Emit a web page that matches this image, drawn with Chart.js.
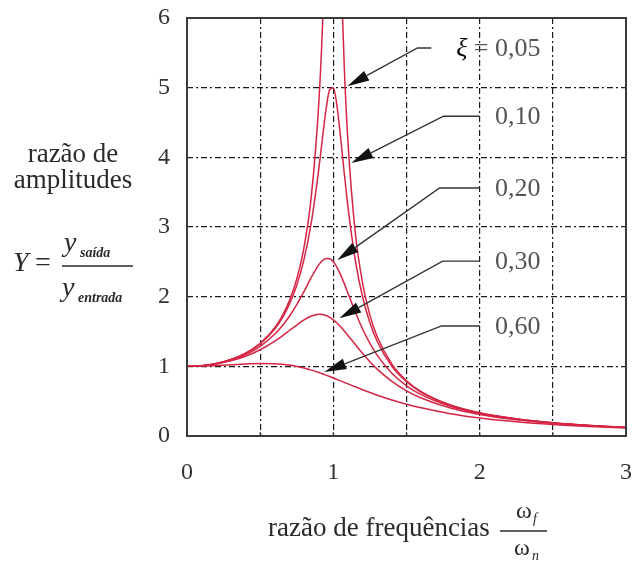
<!DOCTYPE html>
<html><head><meta charset="utf-8">
<script src="https://cdn.jsdelivr.net/npm/chart.js@4/dist/chart.umd.min.js"></script>
<style>html,body{margin:0;padding:0;background:#fff;}canvas{display:block;}</style>
</head><body>
<canvas id="c" width="632" height="569"></canvas>
<script>
// frequency ratio (x) sample points
const freqRatio = [0,0.1,0.2,0.3,0.4,0.5,0.6,0.65,0.7,0.75,0.8,0.85,0.9,0.925,0.95,0.975,1.0,1.025,1.05,1.075,1.1,1.15,1.2,1.25,1.3,1.4,1.5,1.6,1.8,2.0,2.25,2.5,2.75,3.0];
// amplitude ratio for each damping ratio
const ampXi005 = [1,1.010,1.041,1.098,1.189,1.330,1.556,1.721,1.943,2.253,2.712,3.446,4.756,5.832,7.346,9.150,10.0,8.747,6.815,5.287,4.218,2.921,2.193,1.735,1.424,1.031,0.794,0.638,0.445,0.333,0.246,0.190,0.152,0.125];
const ampXi010 = [1,1.010,1.041,1.097,1.185,1.322,1.536,1.689,1.891,2.162,2.538,3.073,3.821,4.261,4.683,4.971,5.0,4.736,4.279,3.768,3.288,2.525,1.995,1.625,1.356,1.0,0.778,0.628,0.441,0.330,0.245,0.190,0.152,0.125];
const ampXi020 = [1,1.009,1.038,1.090,1.170,1.288,1.463,1.579,1.719,1.885,2.076,2.279,2.457,2.518,2.549,2.544,2.5,2.421,2.313,2.187,2.051,1.780,1.536,1.329,1.157,0.900,0.721,0.593,0.425,0.322,0.240,0.187,0.150,0.124];
const ampXi030 = [1,1.008,1.034,1.078,1.145,1.238,1.362,1.435,1.514,1.593,1.667,1.722,1.747,1.744,1.729,1.703,1.667,1.621,1.567,1.507,1.444,1.313,1.185,1.067,0.960,0.784,0.649,0.546,0.402,0.310,0.234,0.183,0.148,0.122];
const ampXi060 = [1,1.003,1.011,1.022,1.034,1.041,1.038,1.030,1.018,0.999,0.975,0.946,0.912,0.893,0.874,0.854,0.833,0.812,0.791,0.770,0.748,0.706,0.664,0.624,0.586,0.517,0.456,0.404,0.321,0.260,0.205,0.165,0.136,0.114];
const dampingLabels = ['0,05','0,10','0,20','0,30','0,60'];
const xTickLabels = ['0','1','2','3'];
const yTickLabels = ['0','1','2','3','4','5','6'];

const series = [ampXi005, ampXi010, ampXi020, ampXi030, ampXi060];
const CURVE = 'rgb(212,38,68)';
const SERIF = '"Liberation Serif", "Times New Roman", serif';

// leader geometry in data units (tip of arrow, elbow, end of horizontal stroke)
const leaders = [
  {tip:[1.096,5.02], elbow:[1.575,5.57], endX:1.67},
  {tip:[1.123,3.92], elbow:[1.753,4.59], endX:2.0},
  {tip:[1.027,2.525], elbow:[1.726,3.56], endX:2.0},
  {tip:[1.041,1.69], elbow:[1.747,2.51], endX:2.0},
  {tip:[0.938,0.92], elbow:[1.74,1.58], endX:2.0}
];
const labelXVal = 2.105;

const decor = {
  id:'decor',
  afterDatasetsDraw(chart){
    const ctx = chart.ctx, xs = chart.scales.x, ys = chart.scales.y, a = chart.chartArea;
    ctx.save();
    // frame
    ctx.strokeStyle = '#3a3a3a'; ctx.lineWidth = 2; ctx.setLineDash([]);
    ctx.strokeRect(a.left, a.top, a.right - a.left, a.bottom - a.top);
    // small inner ticks on the bottom axis
    ctx.lineWidth = 1.2;
    for (let v = 0.5; v < 3; v += 0.5) {
      const px = xs.getPixelForValue(v);
      ctx.beginPath(); ctx.moveTo(px, a.bottom); ctx.lineTo(px, a.bottom - 4); ctx.stroke();
    }
    // leaders
    leaders.forEach((L, i) => {
      const tx = xs.getPixelForValue(L.tip[0]), ty = ys.getPixelForValue(L.tip[1]);
      const ex = xs.getPixelForValue(L.elbow[0]), ey = ys.getPixelForValue(L.elbow[1]);
      const hx = xs.getPixelForValue(L.endX);
      const dx = tx - ex, dy = ty - ey, len = Math.hypot(dx, dy);
      const ux = dx/len, uy = dy/len;
      const hl = 22, hw = 5.5;
      const bx = tx - ux*hl, by = ty - uy*hl;
      ctx.strokeStyle = '#333'; ctx.lineWidth = 1.4;
      ctx.beginPath(); ctx.moveTo(hx, ey); ctx.lineTo(ex, ey); ctx.lineTo(bx, by); ctx.stroke();
      ctx.fillStyle = '#111';
      ctx.beginPath(); ctx.moveTo(tx, ty);
      ctx.lineTo(bx - uy*hw, by + ux*hw); ctx.lineTo(bx + uy*hw, by - ux*hw); ctx.closePath(); ctx.fill();
      // label
      const lx = xs.getPixelForValue(labelXVal);
      ctx.font = '26px ' + SERIF; ctx.fillStyle = '#555'; ctx.textBaseline = 'middle'; ctx.textAlign = 'left';
      ctx.fillText(dampingLabels[i], lx, ey + 1);
      if (i === 0) {
        ctx.textAlign = 'right';
        ctx.fillText('= ', lx, ey + 1);
        const w = ctx.measureText('= ').width;
        ctx.font = 'italic 26px ' + SERIF; ctx.fillStyle = '#000';
        ctx.fillText('ξ ', lx - w, ey + 1);
      }
    });
    ctx.restore();
  },
  afterDraw(chart){
    const ctx = chart.ctx;
    ctx.save();
    ctx.fillStyle = '#2a2a2a'; ctx.strokeStyle = '#2a2a2a';
    ctx.textBaseline = 'middle'; ctx.textAlign = 'center';
    // y title
    ctx.font = '27px ' + SERIF;
    ctx.fillText('razão de', 73, 155);
    ctx.fillText('amplitudes', 73, 181);
    ctx.textAlign = 'left';
    ctx.font = 'italic 28px ' + SERIF;
    ctx.fillText('Y', 13, 264);
    ctx.font = '28px ' + SERIF;
    ctx.fillText('=', 35, 264);
    ctx.lineWidth = 1.5;
    ctx.beginPath(); ctx.moveTo(62, 266); ctx.lineTo(133, 266); ctx.stroke();
    ctx.font = 'italic 28px ' + SERIF;
    ctx.fillText('y', 64, 244);
    ctx.fillText('y', 62, 289);
    ctx.font = 'italic bold 14px ' + SERIF;
    ctx.fillText('saída', 80, 253);
    ctx.fillText('entrada', 78, 298);
    // x title
    ctx.font = '27px ' + SERIF;
    ctx.fillText('razão de frequências', 268, 529);
    ctx.beginPath(); ctx.moveTo(500, 531); ctx.lineTo(547, 531); ctx.stroke();
    ctx.font = '24px ' + SERIF;
    ctx.textAlign = 'center';
    ctx.fillText('ω', 524, 512);
    ctx.fillText('ω', 522, 549);
    ctx.font = 'italic 14px ' + SERIF;
    ctx.textAlign = 'left';
    ctx.fillText('f', 533, 519);
    ctx.fillText('n', 532, 556);
    ctx.restore();
  }
};

const gridStyle = {color:'#1a1a1a', lineWidth:1.2, drawTicks:false};
new Chart(document.getElementById('c'), {
  type:'line',
  data:{
    datasets: series.map((s, i) => ({
      label: dampingLabels[i],
      data: freqRatio.map((x, j) => ({x:x, y:s[j]})),
      borderColor: CURVE, borderWidth: 1.5, pointRadius: 0,
      cubicInterpolationMode:'monotone', fill:false
    }))
  },
  options:{
    responsive:false, animation:false, devicePixelRatio:1,
    layout:{padding:{top:18, right:6, left:0, bottom:0}},
    plugins:{legend:{display:false}, tooltip:{enabled:false}},
    scales:{
      x:{type:'linear', min:0, max:3,
        afterFit(s){ s.height = 133; s.paddingLeft = 0; s.paddingRight = 0; },
        grid:gridStyle, border:{display:false, dash:[6,3,2,3]},
        ticks:{stepSize:0.5, padding:22, color:'#333', font:{family:SERIF, size:24},
          maxRotation:0, autoSkip:false,
          callback(v){ return Number.isInteger(v) ? xTickLabels[v] : ''; }}
      },
      y:{min:0, max:6,
        afterFit(s){ s.width = 187; s.paddingTop = 0; s.paddingBottom = 0; },
        grid:gridStyle, border:{display:false, dash:[6,3,2,3]},
        ticks:{stepSize:1, padding:17, color:'#333', font:{family:SERIF, size:24},
          callback(v){ return yTickLabels[v]; }}
      }
    }
  },
  plugins:[decor]
});
</script>
</body></html>
